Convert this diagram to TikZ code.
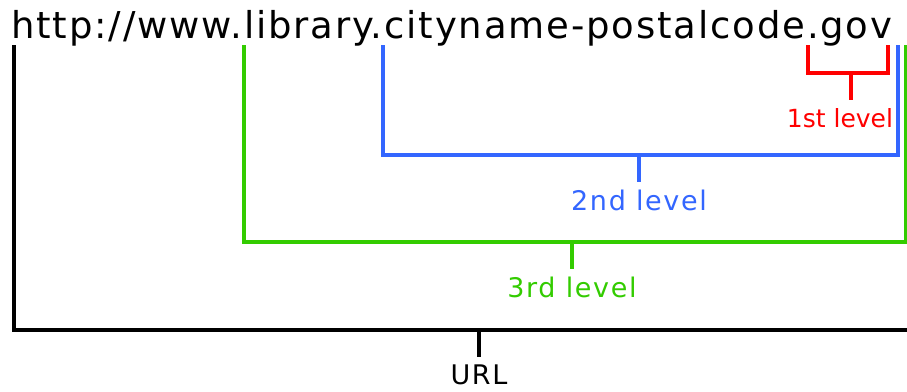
\documentclass[tikz,border=0pt]{standalone}
\usepackage{fontspec}
\setmainfont{DejaVu Sans}
\newfontfamily\urlfont[LetterSpace=5]{DejaVu Sans}
\newfontfamily\lvlfont[LetterSpace=6]{DejaVu Sans}
\usetikzlibrary{calc,positioning}
\definecolor{lvlred}{RGB}{255,0,0}
\definecolor{lvlblue}{RGB}{51,102,255}
\definecolor{lvlgreen}{RGB}{51,204,0}
\tikzstyle{bracket}=[line width=3.8pt, line join=miter]
\tikzstyle{levellabel}=[inner sep=0pt, font=\lvlfont\fontsize{27}{27}\selectfont]
% [label options] name, colour, left x, right x, bar y, stem x, label
\newcommand{\lvlbracket}[8][]{
	\coordinate (#2-a) at (#4,45);
	\coordinate (#2-b) at (#5,45);
	\coordinate (#2-stem) at (#7,#6);
	\coordinate (#2-end) at ($(#2-stem)+(0,27)$);
	\draw[bracket, #3] (#2-a) |- (#2-b |- #2-stem) -- (#2-b);
	\draw[bracket, #3] (#2-stem) -- (#2-end);
	\node[levellabel, text=#3, below=8pt of #2-end, #1] (#2) {#8};
}

\begin{document}
\begin{tikzpicture}[x=1pt, y=-1pt]
	\fill[white] (0,0) rectangle (907,391);
	\useasboundingbox (0,0) rectangle (907,391);
%
	\node[inner sep=0pt, anchor=base west, font=\urlfont\fontsize{37}{37}\selectfont] (address) at (11,38) {http://www.library.cityname-postalcode.gov};
%
	\lvlbracket[xshift=-11pt, font=\fontsize{25}{25}\selectfont]{first}{lvlred}{808}{888}{73}{851}{1st level}
	\lvlbracket{second}{lvlblue}{383}{898}{155}{639}{2nd level}
	\lvlbracket{third}{lvlgreen}{244}{906}{242}{572}{3rd level}
%
	\coordinate (url-a) at (14,45);
	\coordinate (url-b) at (907,330);
	\coordinate (url-stem) at (479,330);
	\coordinate (url-end) at (479,357);
	\draw[bracket] (url-a) |- (url-b);
	\draw[bracket] (url-stem) -- (url-end);
	\node[levellabel, below=8pt of url-end] (url) {URL};
\end{tikzpicture}
\end{document}
